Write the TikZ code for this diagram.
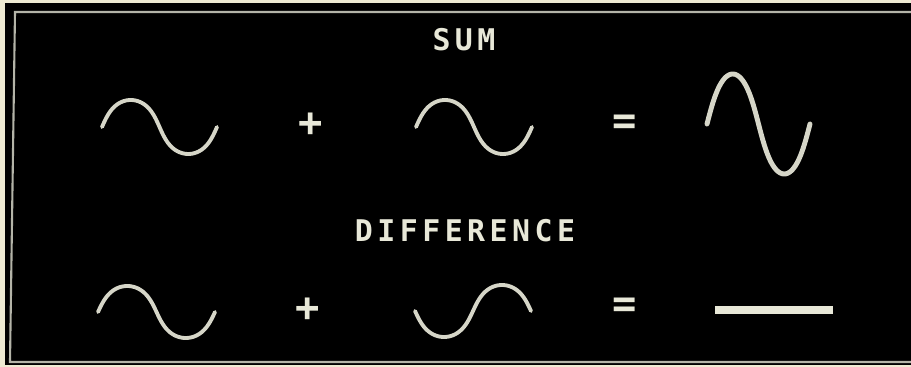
\documentclass[tikz,border=0pt]{standalone}
\usepackage{fontspec}
\usepackage{xcolor}
\usepackage{tikz}
\newfontfamily\screenfont[LetterSpace=15]{DejaVu Sans Mono}
\definecolor{paper}{HTML}{EEEAD2}
\definecolor{phosphor}{HTML}{E8E8D8}
\definecolor{trace}{HTML}{D6D6C8}
\definecolor{bezel}{HTML}{B4B4A8}
\tikzstyle{caption} = [text=phosphor, inner sep=0pt, font=\screenfont\bfseries\fontsize{17}{17}\selectfont]
\tikzstyle{opsign} = [text=phosphor, inner sep=0pt, font=\screenfont\bfseries\fontsize{23}{23}\selectfont]
\tikzstyle{wave} = [draw=trace, line width=2.2pt, line cap=round]
\tikzstyle{bigwave} = [wave, line width=2.8pt]
\tikzstyle{flatline} = [draw=phosphor, line width=4pt]

\begin{document}
\begin{tikzpicture}[x=0.02cm, y=-0.02cm]

    \useasboundingbox (0, 0) rectangle (911, 367);
    \fill[paper] (0, 0) rectangle (911, 367);
    \fill[black] (5, 3) rectangle (911, 365);
    \draw[bezel, line width=1.2pt] (911, 12) -- (15, 12) -- (10, 362) -- (911, 362);

    % sum row
    \node[caption] at (464, 40) (sum) {SUM};
    \draw[wave] plot[domain=0:360, samples=90] ({102 + (\x - 10*sin(2*\x))/360*115}, {127 - 27*sin(\x)});
    \node[opsign] at (311, 125) (plustop) {+};
    \draw[wave] plot[domain=0:360, samples=90] ({416 + (\x - 10*sin(2*\x))/360*116}, {127 - 27*sin(\x)});
    \node[opsign] at (625, 125) (equaltop) {=};
    \draw[bigwave] plot[domain=0:360, samples=90] ({707 + (\x - 6*sin(2*\x))/360*103}, {124 - 50*sin(\x)});

    % difference row
    \node[caption] at (465, 231) (difference) {DIFFERENCE};
    \draw[wave] plot[domain=0:360, samples=90] ({98 + (\x - 10*sin(2*\x))/360*117}, {312 - 26*sin(\x)});
    \node[opsign] at (308, 310) (plusbottom) {+};
    \draw[wave] plot[domain=0:360, samples=90] ({415 + (\x - 10*sin(2*\x))/360*116}, {311 + 26*sin(\x)});
    \node[opsign] at (625, 308) (equalbottom) {=};
    \coordinate (flatstart) at (715, 310);
    \coordinate (flatend) at (833, 310);
    \draw[flatline] (flatstart) -- (flatend);

\end{tikzpicture}
\end{document}
